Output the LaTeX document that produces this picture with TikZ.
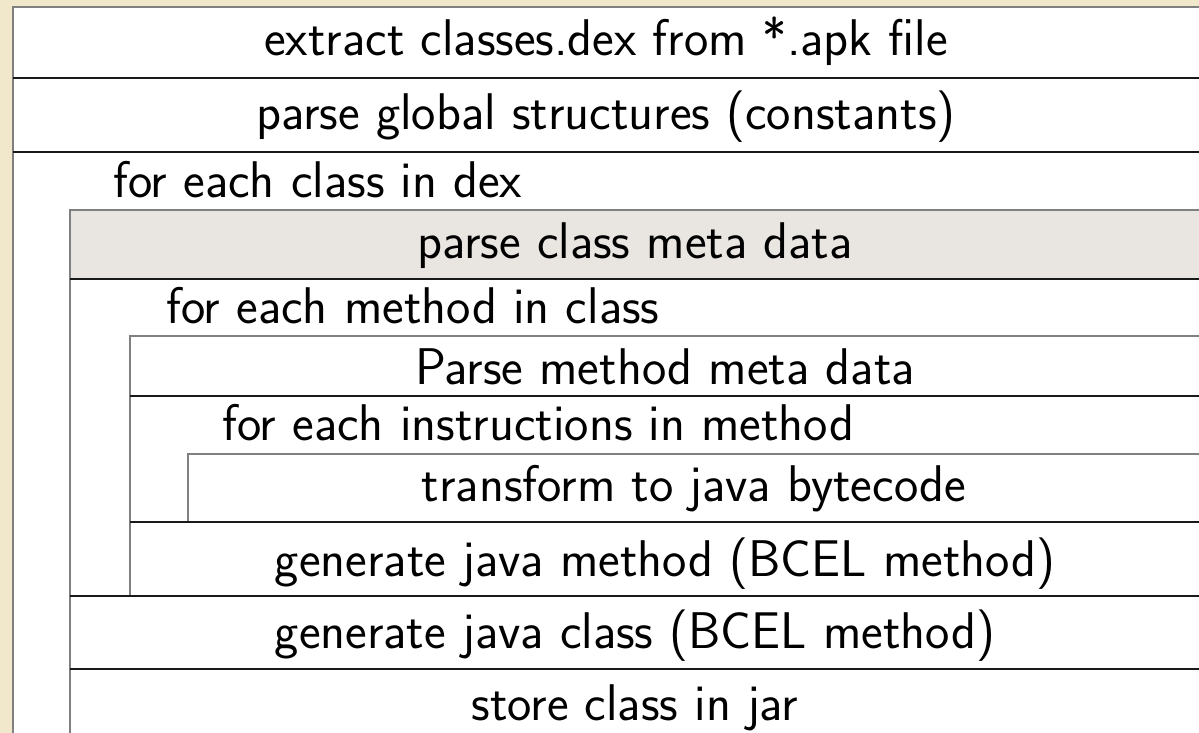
\documentclass[tikz,border=0pt]{standalone}
\usepackage{fontspec}
\definecolor{paper}{HTML}{F1E8CC}
\definecolor{metagray}{HTML}{E9E5E0}
\begin{document}
\begin{tikzpicture}[x=1pt,y=-1pt,
    font=\sffamily\fontsize{51.6}{60}\selectfont,
    sep/.style={draw=black!90, line width=1.6pt},
    edge/.style={draw=black!50, line width=1.3pt},
    stepnode/.style={anchor=base, inner sep=0pt},
    loophead/.style={anchor=base west, inner sep=0pt}]
  \useasboundingbox (0,0) rectangle (1199,733);
  \clip (0,0) rectangle (1199,733);
  \fill[paper] (0,0) rectangle (1199,733);
  % outer block
  \fill[white] (13,7) rectangle (1210,740);
  \draw[edge] (13,740) -- (13,7) -- (1210,7);
  \draw[sep] (13,78) -- (1210,78);
  \draw[sep] (13,152) -- (1210,152);
  % class loop
  \fill[metagray] (70,210) rectangle (1210,279);
  \draw[edge] (70,740) -- (70,210) -- (1210,210);
  \draw[sep] (70,279) -- (1210,279);
  % method loop
  \draw[edge] (130,596) -- (130,336) -- (1210,336);
  \draw[sep] (130,396) -- (1210,396);
  % instruction loop
  \draw[edge] (188,522) -- (188,454) -- (1210,454);
  \draw[sep] (130,522) -- (1210,522);
  \draw[sep] (70,596) -- (1210,596);
  \draw[sep] (70,669) -- (1210,669);
  % texts
  \node[stepnode] (extract) at (606,56) {extract classes.dex from *.apk file};
  \node[stepnode] (globals) at (606,129) {parse global structures (constants)};
  \node[loophead] (classloop) at (113,197) {for each class in dex};
  \node[stepnode] (classmeta) at (635,258) {parse class meta data};
  \node[loophead] (methodloop) at (166,323) {for each method in class};
  \node[stepnode] (methodmeta) at (665,384) {Parse method meta data};
  \node[loophead] (insnloop) at (222,440) {for each instructions in method};
  \node[stepnode] (transform) at (694,501) {transform to java bytecode};
  \node[stepnode] (genmethod) at (665,576) {generate java method (BCEL method)};
  \node[stepnode] (genclass) at (635,648) {generate java class (BCEL method)};
  \node[stepnode] (store) at (635,720) {store class in jar};
\end{tikzpicture}
\end{document}
